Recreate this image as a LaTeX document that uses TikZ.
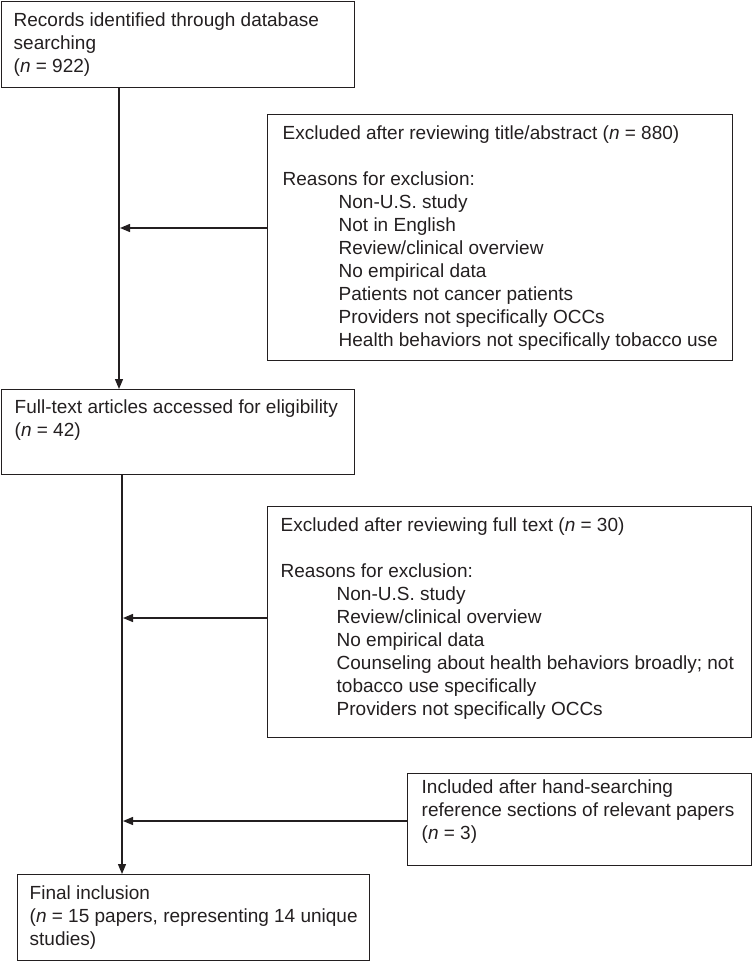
\documentclass[tikz,border=0pt]{standalone}
\usepackage{fontspec}
\setmainfont{Liberation Sans}
\usetikzlibrary{arrows.meta}
\definecolor{ink}{RGB}{35,31,32}
% #1 width, #2 height, #3 left pad, #4 first baseline, #5 text
\newcommand{\bxt}[5]{\begin{minipage}[t][#2pt][t]{#1pt}\raggedright\leftskip=#3pt\relax
\fontsize{19}{23}\selectfont\hfuzz=300pt\hbadness=10000\relax
\rule{0pt}{#4pt}#5\end{minipage}}
\newcommand{\ind}{\hspace*{56pt}}
\begin{document}
\begin{tikzpicture}[x=1pt,y=-1pt,
  box/.style={draw=ink,line width=1.4pt,inner sep=0pt,anchor=north west,text=ink},
  arr/.style={draw=ink,line width=1.3pt,-{Triangle[length=10pt,width=8pt]}}]
\useasboundingbox (0,0) rectangle (752,961);
\node[box] (rec) at (1,1) {\bxt{353}{86}{12}{25}{Records identified through database\\searching\\(\textit{n} = 922)}};
\node[box] (ex1) at (267,114) {\bxt{465}{246}{15}{25}{Excluded after reviewing title/abstract (\textit{n} = 880)\\[23pt]
Reasons for exclusion:\\
\ind Non-U.S. study\\
\ind Not in English\\
\ind Review/clinical overview\\
\ind No empirical data\\
\ind Patients not cancer patients\\
\ind Providers not specifically OCCs\\
\ind Health behaviors not specifically tobacco use}};
\node[box] (ft) at (1,389) {\bxt{353}{85}{13}{24}{Full-text articles accessed for eligibility\\(\textit{n} = 42)}};
\node[box] (ex2) at (267,506) {\bxt{484}{231}{13}{25}{Excluded after reviewing full text (\textit{n} = 30)\\[23pt]
Reasons for exclusion:\\
\ind Non-U.S. study\\
\ind Review/clinical overview\\
\ind No empirical data\\
\ind Counseling about health behaviors broadly; not\\
\ind tobacco use specifically\\
\ind Providers not specifically OCCs}};
\node[box] (hs) at (407,773) {\bxt{344}{92}{14}{20}{Included after hand-searching\\reference sections of relevant papers\\(\textit{n} = 3)}};
\node[box] (fin) at (17,874) {\bxt{352}{86}{12}{25}{Final inclusion\\(\textit{n} = 15 papers, representing 14 unique\\studies)}};
\coordinate (j1) at (120,228);
\coordinate (j2) at (122,618);
\coordinate (j3) at (122,821);
\draw[arr] (rec.south -| 119,0) -- (ft.north -| 119,0);
\draw[arr] (ex1.west |- j1) -- (j1);
\draw[arr] (ft.south -| j2) -- (fin.north -| j2);
\draw[arr] (ex2.west |- j2) -- ([xshift=1pt]j2);
\draw[arr] (hs.west |- j3) -- ([xshift=1pt]j3);
\end{tikzpicture}
\end{document}
